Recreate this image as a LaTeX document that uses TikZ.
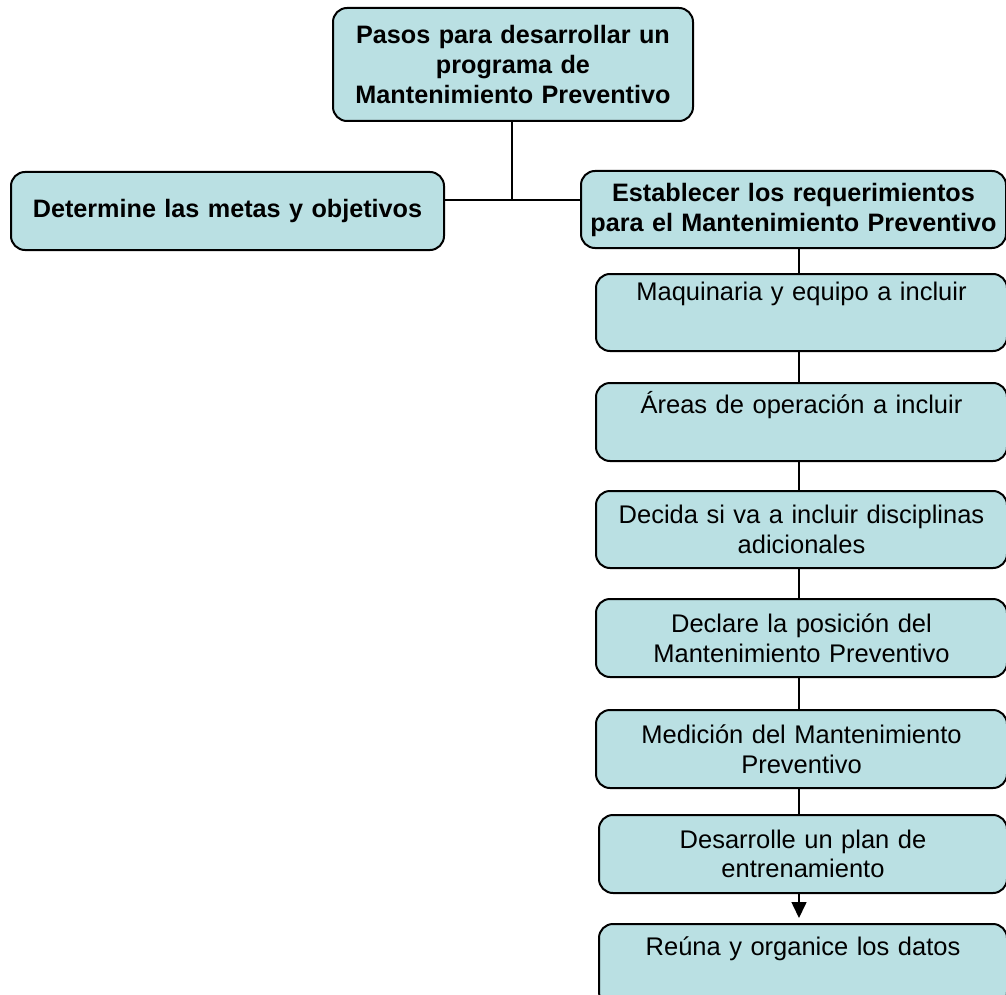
\documentclass[tikz,border=0pt]{standalone}
\usepackage{fontspec}
\setmainfont{Liberation Sans}
\usetikzlibrary{arrows.meta}

\definecolor{boxfill}{RGB}{186,224,227}

\tikzset{
  box/.style={draw=black, line width=2pt, fill=boxfill, rounded corners=14pt,
    anchor=north west, inner xsep=0pt, align=center},
  boldtxt/.style={font=\fontsize{25.2}{30}\selectfont\bfseries},
  plaintxt/.style={font=\fontsize{25.5}{29.5}\selectfont},
  topline/.style 2 args={inner ysep=0pt, text height=#1, text depth=#2},
  conn/.style={draw=black, line width=1.6pt},
  arrowconn/.style={conn, -{Triangle[width=15pt,length=16pt]}, shorten >=5pt},
}

\begin{document}
\begin{tikzpicture}[x=1pt,y=-1pt]
\useasboundingbox (0,0) rectangle (1006,995);
\clip (0,0) rectangle (1006,995);

% header and first level
\node[box, boldtxt, text width=360pt, minimum height=113pt] (top) at (332,7)
  {Pasos para desarrollar un\\ programa de\\ Mantenimiento Preventivo};
\node[box, boldtxt, text width=433pt, minimum height=78pt] (goals) at (10,171)
  {Determine las metas y objetivos};
\node[box, boldtxt, text width=425pt, minimum height=77pt] (req) at (580,170)
  {Establecer los requerimientos\\ para el Mantenimiento Preventivo};

% requirement steps
\node[box, plaintxt, text width=411pt, minimum height=77pt, topline={26pt}{51pt}] (s1) at (595,273)
  {Maquinaria y equipo a incluir};
\node[box, plaintxt, text width=411pt, minimum height=78pt, topline={30pt}{48pt}] (s2) at (595,382)
  {Áreas de operación a incluir};
\node[box, plaintxt, text width=411pt, minimum height=77pt] (s3) at (595,490)
  {Decida si va a incluir disciplinas\\ adicionales};
\node[box, plaintxt, text width=411pt, minimum height=78pt] (s4) at (595,598)
  {Declare la posición del\\ Mantenimiento Preventivo};
\node[box, plaintxt, text width=411pt, minimum height=78pt] (s5) at (595,709)
  {Medición del Mantenimiento\\ Preventivo};
\node[box, plaintxt, text width=408pt, minimum height=78pt] (s6) at (598,814)
  {Desarrolle un plan de\\ entrenamiento};
\node[box, plaintxt, text width=408pt, minimum height=82pt, topline={31pt}{51pt}] (s7) at (598,923)
  {Reúna y organice los datos};

% connectors
\coordinate (j) at (512,200);
\draw[conn] (top.south -| j) -- (j);
\draw[conn] (goals.east |- j) -- (req.west |- j);
\coordinate (spine) at (799,0);
\draw[conn] (req.south -| spine) -- (s1.north -| spine);
\draw[conn] (s1.south -| spine) -- (s2.north -| spine);
\draw[conn] (s2.south -| spine) -- (s3.north -| spine);
\draw[conn] (s3.south -| spine) -- (s4.north -| spine);
\draw[conn] (s4.south -| spine) -- (s5.north -| spine);
\draw[conn] (s5.south -| spine) -- (s6.north -| spine);
\draw[arrowconn] (s6.south -| spine) -- (s7.north -| spine);
\end{tikzpicture}
\end{document}
